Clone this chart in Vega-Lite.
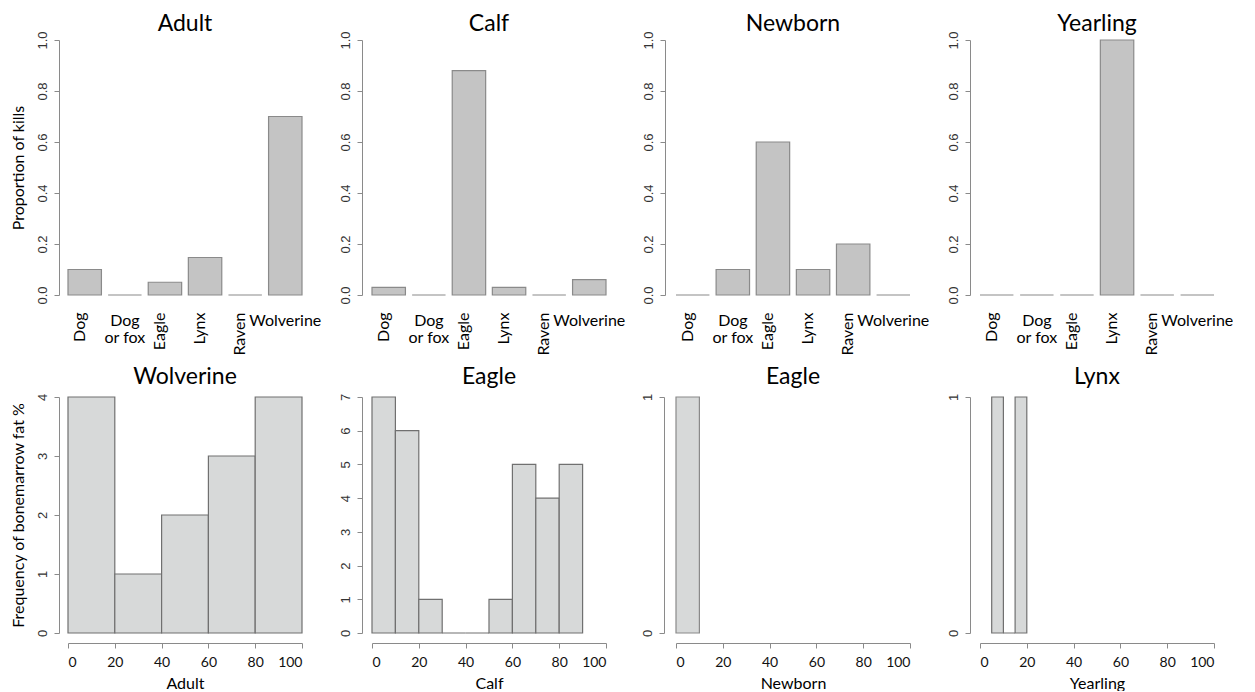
{
  "$schema": "https://vega.github.io/schema/vega-lite/v6.json",
  "padding": {"left": 10, "top": 12, "right": 0, "bottom": 0},
  "background": "white",
  "datasets": {
    "kills": [
      {"age": "Adult", "predator": "Dog", "prop": 0.1},
      {"age": "Adult", "predator": "Dog or fox", "prop": 0},
      {"age": "Adult", "predator": "Eagle", "prop": 0.05},
      {"age": "Adult", "predator": "Lynx", "prop": 0.147},
      {"age": "Adult", "predator": "Raven", "prop": 0},
      {"age": "Adult", "predator": "Wolverine", "prop": 0.7},
      {"age": "Calf", "predator": "Dog", "prop": 0.03},
      {"age": "Calf", "predator": "Dog or fox", "prop": 0},
      {"age": "Calf", "predator": "Eagle", "prop": 0.88},
      {"age": "Calf", "predator": "Lynx", "prop": 0.03},
      {"age": "Calf", "predator": "Raven", "prop": 0},
      {"age": "Calf", "predator": "Wolverine", "prop": 0.06},
      {"age": "Newborn", "predator": "Dog", "prop": 0},
      {"age": "Newborn", "predator": "Dog or fox", "prop": 0.1},
      {"age": "Newborn", "predator": "Eagle", "prop": 0.6},
      {"age": "Newborn", "predator": "Lynx", "prop": 0.1},
      {"age": "Newborn", "predator": "Raven", "prop": 0.2},
      {"age": "Newborn", "predator": "Wolverine", "prop": 0},
      {"age": "Yearling", "predator": "Dog", "prop": 0},
      {"age": "Yearling", "predator": "Dog or fox", "prop": 0},
      {"age": "Yearling", "predator": "Eagle", "prop": 0},
      {"age": "Yearling", "predator": "Lynx", "prop": 1.0},
      {"age": "Yearling", "predator": "Raven", "prop": 0},
      {"age": "Yearling", "predator": "Wolverine", "prop": 0}
    ],
    "fat": [
      {"age": "Adult", "start": 0, "end": 20, "count": 4},
      {"age": "Adult", "start": 20, "end": 40, "count": 1},
      {"age": "Adult", "start": 40, "end": 60, "count": 2},
      {"age": "Adult", "start": 60, "end": 80, "count": 3},
      {"age": "Adult", "start": 80, "end": 100, "count": 4},
      {"age": "Calf", "start": 0, "end": 10, "count": 7},
      {"age": "Calf", "start": 10, "end": 20, "count": 6},
      {"age": "Calf", "start": 20, "end": 30, "count": 1},
      {"age": "Calf", "start": 30, "end": 40, "count": 0},
      {"age": "Calf", "start": 40, "end": 50, "count": 0},
      {"age": "Calf", "start": 50, "end": 60, "count": 1},
      {"age": "Calf", "start": 60, "end": 70, "count": 5},
      {"age": "Calf", "start": 70, "end": 80, "count": 4},
      {"age": "Calf", "start": 80, "end": 90, "count": 5},
      {"age": "Newborn", "start": 0, "end": 10, "count": 1},
      {"age": "Yearling", "start": 5, "end": 10, "count": 1},
      {"age": "Yearling", "start": 10, "end": 15, "count": 0},
      {"age": "Yearling", "start": 15, "end": 20, "count": 1}
    ]
  },
  "columns": 4,
  "bounds": "flush",
  "spacing": {"row": 102, "column": 70},
  "concat": [
    {
      "width": 234, "height": 255,
      "title": {"text": "Adult"},
      "data": {"name": "kills"},
      "transform": [{"filter": "datum.age === 'Adult'"}],
      "encoding": {
        "x": {"field": "predator", "type": "nominal", "scale": {"domain": ["Dog", "Dog or fox", "Eagle", "Lynx", "Raven", "Wolverine"], "paddingInner": 0.1667, "paddingOuter": 0}},
        "y": {"field": "prop", "type": "quantitative", "stack": null, "scale": {"domain": [0, 1], "nice": false},
          "axis": {"title": "Proportion of kills", "values": [0, 0.2, 0.4, 0.6, 0.8, 1.0], "format": ".1f", "offset": 9}},
        "y2": {"datum": 0}
      },
      "layer": [
        {"mark": {"type": "bar", "fill": "#c4c4c4", "stroke": "#8a8a8a", "strokeWidth": 1.2},
         "encoding": {"x": {"field": "predator", "type": "nominal", "axis": {"orient": "bottom", "title": null, "domain": false, "ticks": false, "tickSize": 0, "labelPadding": 17, "labelFont": "Lato", "labelFontSize": 16, "labelColor": "#000", "labelOverlap": false, "labelAngle": -90, "labelAlign": "right", "labelBaseline": "alphabetic",
           "values": ["Dog", "Eagle", "Lynx", "Raven"]}}}},
        {"mark": {"type": "bar", "fill": "#c4c4c4", "stroke": "#8a8a8a", "strokeWidth": 1.2, "opacity": 0},
         "encoding": {"x": {"field": "predator", "type": "nominal", "axis": {"orient": "bottom", "title": null, "domain": false, "ticks": false, "tickSize": 0, "labelPadding": 17, "labelFont": "Lato", "labelFontSize": 16, "labelColor": "#000", "labelOverlap": false, "labelAngle": 0, "labelAlign": "center", "labelBaseline": "top", "labelLineHeight": 17,
           "values": ["Dog or fox", "Wolverine"],
           "labelExpr": "datum.label == 'Dog or fox' ? ['Dog', 'or fox'] : datum.label"}}}}
      ],
      "resolve": {"axis": {"x": "independent"}}
    },
    {
      "width": 234, "height": 255,
      "title": {"text": "Calf"},
      "data": {"name": "kills"},
      "transform": [{"filter": "datum.age === 'Calf'"}],
      "encoding": {
        "x": {"field": "predator", "type": "nominal", "scale": {"domain": ["Dog", "Dog or fox", "Eagle", "Lynx", "Raven", "Wolverine"], "paddingInner": 0.1667, "paddingOuter": 0}},
        "y": {"field": "prop", "type": "quantitative", "stack": null, "scale": {"domain": [0, 1], "nice": false},
          "axis": {"title": null, "values": [0, 0.2, 0.4, 0.6, 0.8, 1.0], "format": ".1f", "offset": 10}},
        "y2": {"datum": 0}
      },
      "layer": [
        {"mark": {"type": "bar", "fill": "#c4c4c4", "stroke": "#8a8a8a", "strokeWidth": 1.2},
         "encoding": {"x": {"field": "predator", "type": "nominal", "axis": {"orient": "bottom", "title": null, "domain": false, "ticks": false, "tickSize": 0, "labelPadding": 17, "labelFont": "Lato", "labelFontSize": 16, "labelColor": "#000", "labelOverlap": false, "labelAngle": -90, "labelAlign": "right", "labelBaseline": "alphabetic",
           "values": ["Dog", "Eagle", "Lynx", "Raven"]}}}},
        {"mark": {"type": "bar", "fill": "#c4c4c4", "stroke": "#8a8a8a", "strokeWidth": 1.2, "opacity": 0},
         "encoding": {"x": {"field": "predator", "type": "nominal", "axis": {"orient": "bottom", "title": null, "domain": false, "ticks": false, "tickSize": 0, "labelPadding": 17, "labelFont": "Lato", "labelFontSize": 16, "labelColor": "#000", "labelOverlap": false, "labelAngle": 0, "labelAlign": "center", "labelBaseline": "top", "labelLineHeight": 17,
           "values": ["Dog or fox", "Wolverine"],
           "labelExpr": "datum.label == 'Dog or fox' ? ['Dog', 'or fox'] : datum.label"}}}}
      ],
      "resolve": {"axis": {"x": "independent"}}
    },
    {
      "width": 234, "height": 255,
      "title": {"text": "Newborn"},
      "data": {"name": "kills"},
      "transform": [{"filter": "datum.age === 'Newborn'"}],
      "encoding": {
        "x": {"field": "predator", "type": "nominal", "scale": {"domain": ["Dog", "Dog or fox", "Eagle", "Lynx", "Raven", "Wolverine"], "paddingInner": 0.1667, "paddingOuter": 0}},
        "y": {"field": "prop", "type": "quantitative", "stack": null, "scale": {"domain": [0, 1], "nice": false},
          "axis": {"title": null, "values": [0, 0.2, 0.4, 0.6, 0.8, 1.0], "format": ".1f", "offset": 11}},
        "y2": {"datum": 0}
      },
      "layer": [
        {"mark": {"type": "bar", "fill": "#c4c4c4", "stroke": "#8a8a8a", "strokeWidth": 1.2},
         "encoding": {"x": {"field": "predator", "type": "nominal", "axis": {"orient": "bottom", "title": null, "domain": false, "ticks": false, "tickSize": 0, "labelPadding": 17, "labelFont": "Lato", "labelFontSize": 16, "labelColor": "#000", "labelOverlap": false, "labelAngle": -90, "labelAlign": "right", "labelBaseline": "alphabetic",
           "values": ["Dog", "Eagle", "Lynx", "Raven"]}}}},
        {"mark": {"type": "bar", "fill": "#c4c4c4", "stroke": "#8a8a8a", "strokeWidth": 1.2, "opacity": 0},
         "encoding": {"x": {"field": "predator", "type": "nominal", "axis": {"orient": "bottom", "title": null, "domain": false, "ticks": false, "tickSize": 0, "labelPadding": 17, "labelFont": "Lato", "labelFontSize": 16, "labelColor": "#000", "labelOverlap": false, "labelAngle": 0, "labelAlign": "center", "labelBaseline": "top", "labelLineHeight": 17,
           "values": ["Dog or fox", "Wolverine"],
           "labelExpr": "datum.label == 'Dog or fox' ? ['Dog', 'or fox'] : datum.label"}}}}
      ],
      "resolve": {"axis": {"x": "independent"}}
    },
    {
      "width": 234, "height": 255,
      "title": {"text": "Yearling"},
      "data": {"name": "kills"},
      "transform": [{"filter": "datum.age === 'Yearling'"}],
      "encoding": {
        "x": {"field": "predator", "type": "nominal", "scale": {"domain": ["Dog", "Dog or fox", "Eagle", "Lynx", "Raven", "Wolverine"], "paddingInner": 0.1667, "paddingOuter": 0}},
        "y": {"field": "prop", "type": "quantitative", "stack": null, "scale": {"domain": [0, 1], "nice": false},
          "axis": {"title": null, "values": [0, 0.2, 0.4, 0.6, 0.8, 1.0], "format": ".1f", "offset": 10}},
        "y2": {"datum": 0}
      },
      "layer": [
        {"mark": {"type": "bar", "fill": "#c4c4c4", "stroke": "#8a8a8a", "strokeWidth": 1.2},
         "encoding": {"x": {"field": "predator", "type": "nominal", "axis": {"orient": "bottom", "title": null, "domain": false, "ticks": false, "tickSize": 0, "labelPadding": 17, "labelFont": "Lato", "labelFontSize": 16, "labelColor": "#000", "labelOverlap": false, "labelAngle": -90, "labelAlign": "right", "labelBaseline": "alphabetic",
           "values": ["Dog", "Eagle", "Lynx", "Raven"]}}}},
        {"mark": {"type": "bar", "fill": "#c4c4c4", "stroke": "#8a8a8a", "strokeWidth": 1.2, "opacity": 0},
         "encoding": {"x": {"field": "predator", "type": "nominal", "axis": {"orient": "bottom", "title": null, "domain": false, "ticks": false, "tickSize": 0, "labelPadding": 17, "labelFont": "Lato", "labelFontSize": 16, "labelColor": "#000", "labelOverlap": false, "labelAngle": 0, "labelAlign": "center", "labelBaseline": "top", "labelLineHeight": 17,
           "values": ["Dog or fox", "Wolverine"],
           "labelExpr": "datum.label == 'Dog or fox' ? ['Dog', 'or fox'] : datum.label"}}}}
      ],
      "resolve": {"axis": {"x": "independent"}}
    },
    {
      "width": 234, "height": 236,
      "title": {"text": "Wolverine", "offset": 4},
      "data": {"name": "fat"},
      "transform": [{"filter": "datum.age === 'Adult'"}],
      "mark": {"type": "bar", "fill": "#d7d9d9", "stroke": "#707070", "strokeWidth": 1.2},
      "encoding": {
        "x": {"field": "start", "type": "quantitative", "scale": {"domain": [0, 100], "nice": false},
          "axis": {"title": "Adult", "values": [0, 20, 40, 60, 80, 100], "offset": 10}},
        "x2": {"field": "end"},
        "y": {"field": "count", "type": "quantitative", "stack": null, "scale": {"domain": [0, 4], "nice": false},
          "axis": {"title": "Frequency of bonemarrow fat %", "values": [0, 1, 2, 3, 4], "format": "d", "offset": 9}},
        "y2": {"datum": 0}
      }
    },
    {
      "width": 234, "height": 236,
      "title": {"text": "Eagle", "offset": 4},
      "data": {"name": "fat"},
      "transform": [{"filter": "datum.age === 'Calf'"}],
      "mark": {"type": "bar", "fill": "#d7d9d9", "stroke": "#707070", "strokeWidth": 1.2},
      "encoding": {
        "x": {"field": "start", "type": "quantitative", "scale": {"domain": [0, 100], "nice": false},
          "axis": {"title": "Calf", "values": [0, 20, 40, 60, 80, 100], "offset": 10}},
        "x2": {"field": "end"},
        "y": {"field": "count", "type": "quantitative", "stack": null, "scale": {"domain": [0, 7], "nice": false},
          "axis": {"title": null, "values": [0, 1, 2, 3, 4, 5, 6, 7], "format": "d", "offset": 10}},
        "y2": {"datum": 0}
      }
    },
    {
      "width": 234, "height": 236,
      "title": {"text": "Eagle", "offset": 4},
      "data": {"name": "fat"},
      "transform": [{"filter": "datum.age === 'Newborn'"}],
      "mark": {"type": "bar", "fill": "#d7d9d9", "stroke": "#8a8a8a", "strokeWidth": 1.2},
      "encoding": {
        "x": {"field": "start", "type": "quantitative", "scale": {"domain": [0, 100], "nice": false},
          "axis": {"title": "Newborn", "values": [0, 20, 40, 60, 80, 100], "offset": 10}},
        "x2": {"field": "end"},
        "y": {"field": "count", "type": "quantitative", "stack": null, "scale": {"domain": [0, 1], "nice": false},
          "axis": {"title": null, "values": [0, 1], "format": "d", "offset": 12}},
        "y2": {"datum": 0}
      }
    },
    {
      "width": 234, "height": 236,
      "title": {"text": "Lynx", "offset": 4},
      "data": {"name": "fat"},
      "transform": [{"filter": "datum.age === 'Yearling'"}],
      "mark": {"type": "bar", "fill": "#d7d9d9", "stroke": "#707070", "strokeWidth": 1.2},
      "encoding": {
        "x": {"field": "start", "type": "quantitative", "scale": {"domain": [0, 100], "nice": false},
          "axis": {"title": "Yearling", "values": [0, 20, 40, 60, 80, 100], "offset": 10}},
        "x2": {"field": "end"},
        "y": {"field": "count", "type": "quantitative", "stack": null, "scale": {"domain": [0, 1], "nice": false},
          "axis": {"title": null, "values": [0, 1], "format": "d", "offset": 10}},
        "y2": {"datum": 0}
      }
    }
  ],
  "config": {
    "view": {"stroke": null},
    "title": {"font": "Lato", "fontSize": 23, "fontWeight": "normal", "color": "#000", "baseline": "alphabetic", "offset": -5, "frame": "group", "anchor": "middle"},
    "axis": {"grid": false, "domainColor": "#8a8a8a", "tickColor": "#8a8a8a", "domainWidth": 1, "tickWidth": 1, "tickSize": 5,
      "titleFont": "Lato", "titleFontSize": 16, "titleFontWeight": "normal", "titleColor": "#000"},
    "axisY": {"labelAngle": -90, "labelAlign": "center", "labelBaseline": "alphabetic", "labelFont": "Liberation Sans", "labelFontSize": 13, "labelColor": "#333", "labelPadding": 8, "titlePadding": 10},
    "axisX": {"labelFont": "Lato", "labelFontSize": 14, "labelColor": "#111", "labelPadding": 7, "titlePadding": 6}
  }
}
